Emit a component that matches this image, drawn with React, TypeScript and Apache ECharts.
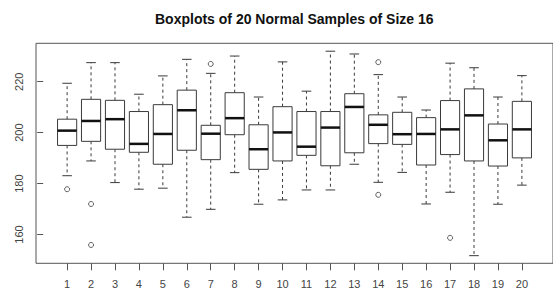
import React, { useEffect, useRef } from "react";
import * as echarts from "echarts";

const samples = ["1","2","3","4","5","6","7","8","9","10","11","12","13","14","15","16","17","18","19","20"];
const lowerWhisker = [183.1,188.9,180.4,177.8,178.2,166.8,169.9,184.3,171.9,173.6,177.5,177.5,187.6,180.5,184.4,172.0,176.6,151.7,171.9,179.4];
const q1 = [195.0,196.6,193.5,192.3,187.6,193.1,189.4,199.2,185.6,188.9,191.1,187.0,192.1,195.7,195.4,187.3,191.4,188.9,186.9,190.1];
const median = [200.8,204.6,205.3,195.6,199.5,208.8,199.6,205.7,193.5,200.1,194.5,202.0,210.1,203.1,199.4,199.5,201.3,206.8,197.0,201.3];
const q3 = [205.3,213.1,212.7,208.3,211.0,216.7,202.9,215.7,203.1,210.2,208.3,208.3,215.3,207.0,208.0,205.9,212.6,217.2,203.4,212.3];
const upperWhisker = [219.4,227.5,227.5,215.1,222.3,228.8,223.3,230.1,214.0,227.8,216.3,232.0,230.9,222.8,214.0,208.9,227.3,225.5,214.0,222.4];
const outlierSample = [1, 2, 2, 7, 14, 14, 17];
const outlierValue = [177.8, 172.0, 155.9, 227.0, 227.7, 175.6, 158.7];
const yTicks = [160, 180, 200, 220];

const LINE = "#3a3a3a";
const FONT = "'Liberation Sans', Arial, sans-serif";

export default function App() {
  const ref = useRef<HTMLDivElement>(null);
  useEffect(() => {
    if (!ref.current) return;
    const chart = echarts.init(ref.current, null, { renderer: "svg" });
    const xTicks = samples.map((_, i) => i + 1);
    const boxData = samples.map((_, i) => [i + 1, lowerWhisker[i], q1[i], median[i], q3[i], upperWhisker[i]]);
    const outData = outlierSample.map((s, i) => [s, outlierValue[i]]);

    chart.setOption({
      animation: false,
      backgroundColor: "#ffffff",
      title: {
        text: "Boxplots of 20 Normal Samples of Size 16",
        left: 150,
        top: 7,
        textStyle: { fontFamily: FONT, fontSize: 14, fontWeight: "bold", color: "#111" },
      },
      grid: {
        left: 36,
        right: -1.5,
        top: 43.3,
        bottom: 27.7,
        show: true,
        borderColor: "#555",
        borderWidth: 1,
        backgroundColor: "transparent",
      },
      xAxis: {
        type: "value",
        min: -0.3,
        max: 21.3,
        splitLine: { show: false },
        axisLine: { show: false },
        axisTick: { show: true, customValues: xTicks, length: 7, lineStyle: { color: "#555" } },
        axisLabel: {
          customValues: xTicks,
          formatter: (v: number) => samples[Math.round(v) - 1] ?? "",
          color: "#444",
          fontSize: 11,
          fontFamily: FONT,
          margin: 15,
        },
      },
      yAxis: {
        type: "value",
        min: 148.7,
        max: 235.1,
        splitLine: { show: false },
        axisLine: { show: false },
        axisTick: { show: true, customValues: yTicks, length: 6, lineStyle: { color: "#555" } },
        axisLabel: {
          customValues: yTicks,
          rotate: 90,
          color: "#444",
          fontSize: 11,
          fontFamily: FONT,
          margin: 12,
        },
      },
      series: [
        {
          type: "custom",
          data: boxData,
          encode: { x: 0, y: [1, 2, 3, 4, 5] },
          renderItem: (params: any, api: any) => {
            const x = api.value(0);
            const lo = api.coord([x, api.value(1)]);
            const b1 = api.coord([x, api.value(2)]);
            const md = api.coord([x, api.value(3)]);
            const b3 = api.coord([x, api.value(4)]);
            const hi = api.coord([x, api.value(5)]);
            const w = api.size([0.8, 0])[0];
            const cx = lo[0];
            const cw = w / 2;
            const dash = { stroke: LINE, lineWidth: 1, lineDash: [3, 3], fill: null };
            const solid = { stroke: LINE, lineWidth: 1, fill: null };
            return {
              type: "group",
              children: [
                { type: "line", shape: { x1: cx, y1: b3[1], x2: cx, y2: hi[1] }, style: dash },
                { type: "line", shape: { x1: cx, y1: b1[1], x2: cx, y2: lo[1] }, style: dash },
                { type: "line", shape: { x1: cx - cw / 2, y1: hi[1], x2: cx + cw / 2, y2: hi[1] }, style: solid },
                { type: "line", shape: { x1: cx - cw / 2, y1: lo[1], x2: cx + cw / 2, y2: lo[1] }, style: solid },
                {
                  type: "rect",
                  shape: { x: cx - w / 2, y: b3[1], width: w, height: b1[1] - b3[1] },
                  style: { fill: "#ffffff", stroke: LINE, lineWidth: 1 },
                },
                {
                  type: "line",
                  shape: { x1: cx - w / 2, y1: md[1], x2: cx + w / 2, y2: md[1] },
                  style: { stroke: "#111", lineWidth: 2.5 },
                },
              ],
            };
          },
        },
        {
          type: "scatter",
          data: outData,
          symbol: "circle",
          symbolSize: 5,
          itemStyle: { color: "#ffffff", borderColor: LINE, borderWidth: 1 },
        },
      ],
    });
    return () => chart.dispose();
  }, []);
  return <div ref={ref} style={{ position: "fixed", left: 0, top: 0, width: 553, height: 291 }} />;
}
